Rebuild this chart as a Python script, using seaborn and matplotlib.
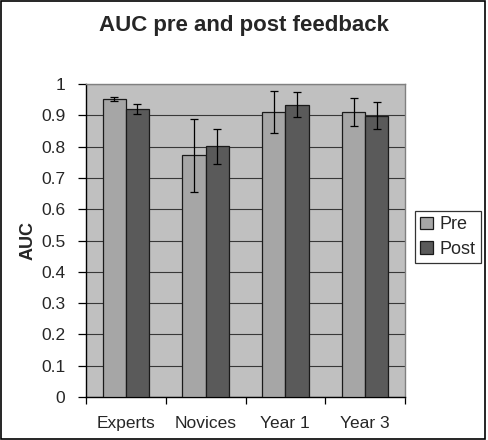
import matplotlib
matplotlib.use("Agg")
import matplotlib.pyplot as plt
import seaborn as sns
import pandas as pd
import numpy as np
from matplotlib.patches import Rectangle

categories = ["Experts", "Novices", "Year 1", "Year 3"]
groups = ["Pre", "Post"]
pre_values = [0.952, 0.772, 0.912, 0.911]
post_values = [0.920, 0.801, 0.933, 0.898]
pre_errors = [0.007, 0.117, 0.067, 0.044]
post_errors = [0.015, 0.056, 0.040, 0.043]
y_ticks = [0, 0.1, 0.2, 0.3, 0.4, 0.5, 0.6, 0.7, 0.8, 0.9, 1]
y_tick_labels = ["0", "0.1", "0.2", "0.3", "0.4", "0.5", "0.6", "0.7", "0.8", "0.9", "1"]

sns.set_theme(style="white")
plt.rcParams["font.family"] = ["Liberation Sans", "DejaVu Sans"]

df = pd.DataFrame({
    "Category": categories * 2,
    "Group": [groups[0]] * 4 + [groups[1]] * 4,
    "AUC": pre_values + post_values,
    "Err": pre_errors + post_errors,
})

fig = plt.figure(figsize=(4.88, 4.40), dpi=100)
ax = fig.add_axes([86 / 488, 1 - 397 / 440, (405 - 86) / 488, (397 - 84) / 440])
ax.set_facecolor("#C0C0C0")

palette = {"Pre": "#A6A6A6", "Post": "#5A5A5A"}
sns.barplot(data=df, x="Category", y="AUC", hue="Group", hue_order=groups,
            order=categories, palette=palette, width=0.58, gap=0,
            edgecolor="#1a1a1a", linewidth=0.9, errorbar=None, ax=ax,
            saturation=1, zorder=3)

# error bars centred on the drawn bars
for container, grp in zip(ax.containers, groups):
    sub = df[df["Group"] == grp].set_index("Category").loc[categories]
    xs = [p.get_x() + p.get_width() / 2 for p in container.patches]
    ax.errorbar(xs, sub["AUC"].values, yerr=sub["Err"].values, fmt="none",
                ecolor="black", elinewidth=0.9, capsize=2.8, capthick=0.9, zorder=4)

ax.set_ylim(0, 1)
ax.set_xlim(-0.5, 3.5)
ax.set_yticks(y_ticks)
ax.set_yticklabels(y_tick_labels, fontsize=12.5)
ax.yaxis.grid(True, color="#383838", linewidth=0.8, zorder=1)
ax.set_axisbelow(True)

ax.set_xticks([-0.5, 0.5, 1.5, 2.5, 3.5])
ax.set_xticklabels([])
ax.set_xticks(range(len(categories)), minor=True)
ax.set_xticklabels(categories, minor=True, fontsize=12.5)
ax.tick_params(axis="x", which="major", direction="out", length=5, width=0.9, color="black", bottom=True)
ax.tick_params(axis="x", which="minor", length=0, pad=14)
ax.tick_params(axis="y", direction="out", length=6, width=0.9, color="black", left=True, pad=9)

for side in ["left", "bottom"]:
    ax.spines[side].set_color("black")
    ax.spines[side].set_linewidth(1.0)
for side in ["top", "right"]:
    ax.spines[side].set_color("#808080")
    ax.spines[side].set_linewidth(1.0)

ax.set_xlabel("")
ax.set_ylabel("AUC", fontsize=13, fontweight="bold", labelpad=3)
fig.text(0.5, 1 - 25 / 440, "AUC pre and post feedback", fontsize=16,
         fontweight="bold", ha="center", va="center")

ax.get_legend().remove()
handles = [Rectangle((0, 0), 1, 1, facecolor=palette[g], edgecolor="#1a1a1a", linewidth=0.9) for g in groups]
leg = fig.legend(handles, groups, loc="center", bbox_to_anchor=(448 / 488, 1 - 237 / 440),
                 fontsize=13, frameon=True, fancybox=False, handlelength=0.7,
                 handleheight=0.7, handletextpad=0.4, borderpad=0.3, labelspacing=0.4,
                 borderaxespad=0)
leg.get_frame().set_edgecolor("black")
leg.get_frame().set_linewidth(0.9)

fig.patches.append(Rectangle((1 / 488, 1 / 440), 484 / 488, 438 / 440, transform=fig.transFigure,
                             fill=False, edgecolor="black", linewidth=1.2))

fig.savefig("out.png", dpi=100)
